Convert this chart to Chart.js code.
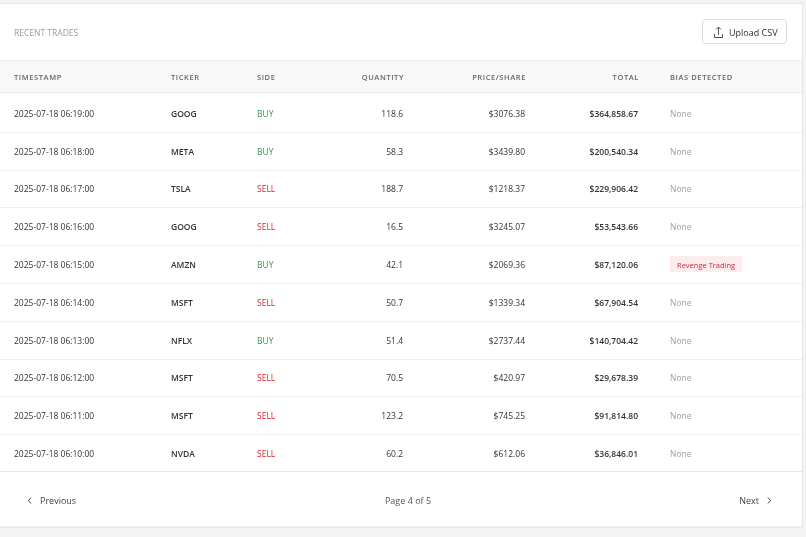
<!DOCTYPE html>
<html>
<head>
<meta charset="utf-8">
<script src="https://cdn.jsdelivr.net/npm/chart.js@4"></script>
<style>
  html, body { margin: 0; padding: 0; background: #f3f3f3; }
  #wrap { position: absolute; left: 0; top: 0; width: 806px; height: 537px; }
</style>
</head>
<body>
<div id="wrap"><canvas id="tradesChart"></canvas></div>
<script>
// table data
var timestamps = ['2025-07-18 06:19:00', '2025-07-18 06:18:00', '2025-07-18 06:17:00', '2025-07-18 06:16:00', '2025-07-18 06:15:00',
                  '2025-07-18 06:14:00', '2025-07-18 06:13:00', '2025-07-18 06:12:00', '2025-07-18 06:11:00', '2025-07-18 06:10:00'];
var tickers = ['GOOG', 'META', 'TSLA', 'GOOG', 'AMZN', 'MSFT', 'NFLX', 'MSFT', 'MSFT', 'NVDA'];
var sides = ['BUY', 'BUY', 'SELL', 'SELL', 'BUY', 'SELL', 'BUY', 'SELL', 'SELL', 'SELL'];
var quantities = ['118.6', '58.3', '188.7', '16.5', '42.1', '50.7', '51.4', '70.5', '123.2', '60.2'];
var prices = ['$3076.38', '$3439.80', '$1218.37', '$3245.07', '$2069.36', '$1339.34', '$2737.44', '$420.97', '$745.25', '$612.06'];
var totals = ['$364,858.67', '$200,540.34', '$229,906.42', '$53,543.66', '$87,120.06', '$67,904.54', '$140,704.42', '$29,678.39', '$91,814.80', '$36,846.01'];
var biases = ['None', 'None', 'None', 'None', 'Revenge Trading', 'None', 'None', 'None', 'None', 'None'];
var headers = ['TIMESTAMP', 'TICKER', 'SIDE', 'QUANTITY', 'PRICE/SHARE', 'TOTAL', 'BIAS DETECTED'];

// column layout (x anchor, alignment)
var colX = [14, 171, 257, 403, 525, 638, 670];
var colAlign = ['left', 'left', 'left', 'right', 'right', 'right', 'left'];
var FONT = '"Open Sans", sans-serif';
var DY = 1.5; // text baseline nudge

var tablePlugin = {
    id: 'tablePlugin',
    beforeDraw: function(chart) {
        var c = chart.ctx;
        c.save();
        // card
        c.fillStyle = '#ffffff';
        c.fillRect(0, 3, 802, 524);
        c.strokeStyle = '#e6e6e6';
        c.lineWidth = 1;
        c.strokeRect(-1, 3.5, 803.5, 523.5);
        // header band
        c.fillStyle = '#f8f8f8';
        c.fillRect(0, 60, 802, 32);
        c.strokeStyle = '#ececec';
        c.beginPath(); c.moveTo(0, 60.5); c.lineTo(802, 60.5); c.moveTo(0, 92.5); c.lineTo(802, 92.5); c.stroke();
        c.restore();
    },
    afterDraw: function(chart) {
        var c = chart.ctx;
        var y = chart.scales.y;
        c.save();
        c.textBaseline = 'middle';

        // title + button
        c.font = '8.5px ' + FONT;
        c.fillStyle = '#9a9a9a';
        c.textAlign = 'left';
        c.fillText('RECENT TRADES', 14, 32 + DY);
        c.strokeStyle = '#dcdcdc';
        c.beginPath(); c.roundRect(702.5, 19.5, 84, 24, 3); c.stroke();
        c.fillStyle = '#333';
        c.font = '9px ' + FONT;
        c.fillText('Upload CSV', 729, 32 + DY);
        // upload icon
        c.strokeStyle = '#555';
        c.lineWidth = 1;
        c.beginPath();
        c.moveTo(718.5, 35); c.lineTo(718.5, 27); c.moveTo(716, 29.5); c.lineTo(718.5, 27); c.lineTo(721, 29.5);
        c.moveTo(714.5, 34); c.lineTo(714.5, 37.5); c.lineTo(722.5, 37.5); c.lineTo(722.5, 34);
        c.stroke();

        // column headers
        c.font = '600 7.5px ' + FONT;
        c.fillStyle = '#666';
        c.letterSpacing = '0.6px';
        headers.forEach(function(h, i) {
            c.textAlign = colAlign[i];
            c.fillText(h, colX[i] + (colAlign[i] === 'right' ? 1 : 0), 76 + DY);
        });
        c.letterSpacing = '0px';

        // rows
        var half = (y.getPixelForValue(1) - y.getPixelForValue(0)) / 2;
        for (var r = 0; r < timestamps.length; r++) {
            var cy = y.getPixelForValue(r);
            if (r < timestamps.length - 1) {
                c.strokeStyle = '#efefef';
                c.beginPath(); c.moveTo(0, Math.round(cy + half) + 0.5); c.lineTo(802, Math.round(cy + half) + 0.5); c.stroke();
            }
            var ty = cy + DY;
            var cells = [timestamps[r], tickers[r], sides[r], quantities[r], prices[r], totals[r], biases[r]];
            cells.forEach(function(txt, i) {
                c.textAlign = colAlign[i];
                c.font = '8.5px ' + FONT;
                c.fillStyle = '#333';
                if (i === 1 || i === 5) c.font = '600 8.5px ' + FONT;
                if (i === 2) c.fillStyle = txt === 'BUY' ? '#2e9e4a' : '#d7262c';
                if (i === 6) {
                    if (txt === 'None') { c.fillStyle = '#a0a0a0'; }
                    else {
                        c.font = '7.5px ' + FONT;
                        var w = c.measureText(txt).width + 14;
                        c.fillStyle = '#fdecee';
                        c.fillRect(colX[i], cy - 8, w, 16);
                        c.fillStyle = '#c0303a';
                        c.fillText(txt, colX[i] + 7, ty);
                        return;
                    }
                }
                c.fillText(txt, colX[i], ty);
            });
        }
        // bottom line of table
        c.strokeStyle = '#e6e6e6';
        c.beginPath(); c.moveTo(0, 471.5); c.lineTo(802, 471.5); c.stroke();

        // pagination
        c.font = '9px ' + FONT;
        c.fillStyle = '#444';
        c.textAlign = 'left';
        c.fillText('Previous', 40, 500 + DY);
        c.textAlign = 'center';
        c.fillStyle = '#555';
        c.fillText('Page 4 of 5', 408, 500 + DY);
        c.textAlign = 'right';
        c.fillStyle = '#444';
        c.fillText('Next', 759, 500 + DY);
        c.strokeStyle = '#444';
        c.beginPath();
        c.moveTo(31, 497.5); c.lineTo(28.5, 500.5); c.lineTo(31, 503.5);
        c.moveTo(768, 497.5); c.lineTo(770.5, 500.5); c.lineTo(768, 503.5);
        c.stroke();
        c.restore();
    }
};

var ctx = document.getElementById('tradesChart').getContext('2d');
var tradesChart = new Chart(ctx, {
    type: 'bar',
    data: {
        labels: timestamps,
        datasets: [{ data: timestamps.map(function() { return null; }), backgroundColor: 'transparent' }]
    },
    options: {
        responsive: true,
        maintainAspectRatio: false,
        animation: false,
        indexAxis: 'y',
        layout: { padding: { top: 94, bottom: 65, left: 0, right: 0 } },
        plugins: { legend: { display: false }, tooltip: { enabled: false } },
        scales: {
            y: { type: 'category', offset: true, display: false },
            x: { display: false, min: 0, max: 1 }
        }
    },
    plugins: [tablePlugin]
});
</script>
</body>
</html>
